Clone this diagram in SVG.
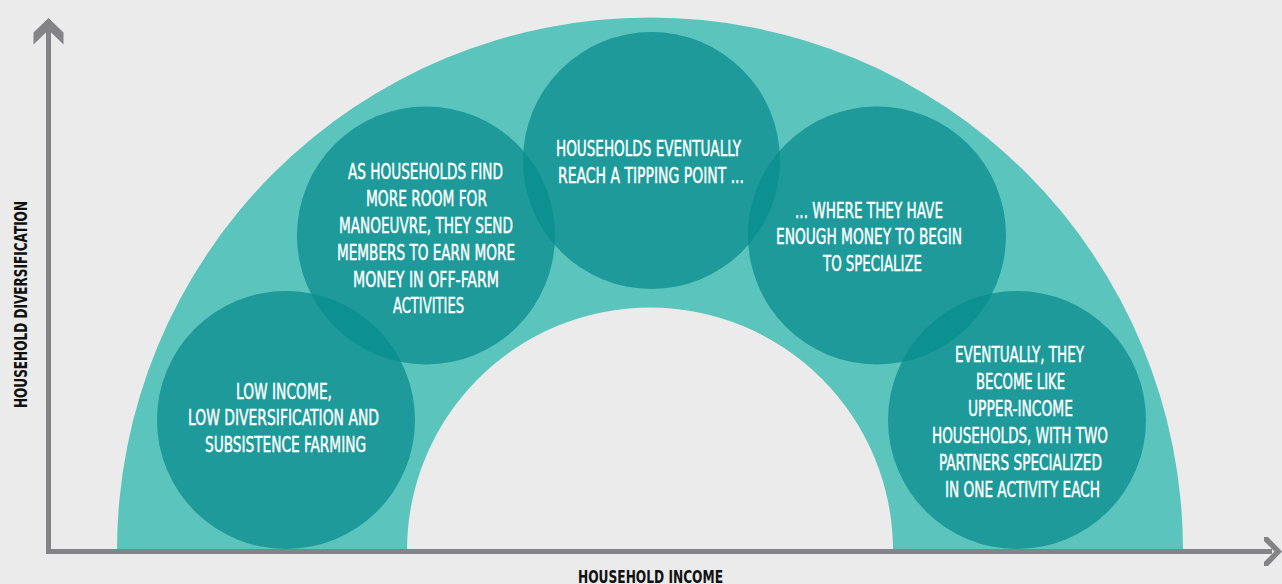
<svg xmlns="http://www.w3.org/2000/svg" width="1282" height="584" viewBox="0 0 1282 584">
<style>
.bubble{fill:#088c8d;fill-opacity:0.75}
.t{font-family:"Liberation Sans Narrow","DejaVu Sans Condensed","Liberation Sans",sans-serif;font-size:21.5px;fill:#ffffff;stroke:#ffffff;stroke-width:0.45;text-anchor:middle}
.ax{font-family:"Liberation Sans Narrow","DejaVu Sans Condensed","Liberation Sans",sans-serif;font-size:17.5px;font-weight:bold;fill:#111111;text-anchor:middle}
.axis{fill:none;stroke:#838388;stroke-width:5}
.head{fill:#838388}
</style>
<rect x="0" y="0" width="1282" height="584" fill="#ebebeb"/>
<path id="arc" d="M117,550.5 A533,533 0 0 1 1183,550.5 L893,550.5 A243,243 0 0 0 407,550.5 Z" fill="#5bc4bd"/>
<g id="node1">
<circle class="bubble" cx="286" cy="420" r="129"/>
<text class="t" x="284" y="399" textLength="96" lengthAdjust="spacingAndGlyphs">LOW INCOME,</text>
<text class="t" x="283.5" y="425" textLength="191" lengthAdjust="spacingAndGlyphs">LOW DIVERSIFICATION AND</text>
<text class="t" x="285.5" y="452" textLength="161" lengthAdjust="spacingAndGlyphs">SUBSISTENCE FARMING</text>
</g>
<g id="node2">
<circle class="bubble" cx="426" cy="235.5" r="129"/>
<text class="t" x="425.5" y="179" textLength="155" lengthAdjust="spacingAndGlyphs">AS HOUSEHOLDS FIND</text>
<text class="t" x="426.5" y="206" textLength="121" lengthAdjust="spacingAndGlyphs">MORE ROOM FOR</text>
<text class="t" x="426" y="233" textLength="174" lengthAdjust="spacingAndGlyphs">MANOEUVRE, THEY SEND</text>
<text class="t" x="426" y="260" textLength="178" lengthAdjust="spacingAndGlyphs">MEMBERS TO EARN MORE</text>
<text class="t" x="426" y="287" textLength="146" lengthAdjust="spacingAndGlyphs">MONEY IN OFF-FARM</text>
<text class="t" x="428.5" y="313" textLength="71" lengthAdjust="spacingAndGlyphs">ACTIVITIES</text>
</g>
<g id="node3">
<circle class="bubble" cx="651.5" cy="160.5" r="128.5"/>
<text class="t" x="648.5" y="156" textLength="185" lengthAdjust="spacingAndGlyphs">HOUSEHOLDS EVENTUALLY</text>
<text class="t" x="651" y="183" textLength="186" lengthAdjust="spacingAndGlyphs">REACH A TIPPING POINT ...</text>
</g>
<g id="node4">
<circle class="bubble" cx="877" cy="235.5" r="129"/>
<text class="t" x="869" y="218" textLength="148" lengthAdjust="spacingAndGlyphs">... WHERE THEY HAVE</text>
<text class="t" x="869" y="244" textLength="186" lengthAdjust="spacingAndGlyphs">ENOUGH MONEY TO BEGIN</text>
<text class="t" x="872.5" y="271" textLength="99" lengthAdjust="spacingAndGlyphs">TO SPECIALIZE</text>
</g>
<g id="node5">
<circle class="bubble" cx="1017" cy="420" r="129"/>
<text class="t" x="1019.5" y="362" textLength="129" lengthAdjust="spacingAndGlyphs">EVENTUALLY, THEY</text>
<text class="t" x="1020.5" y="389" textLength="89" lengthAdjust="spacingAndGlyphs">BECOME LIKE</text>
<text class="t" x="1020.5" y="416" textLength="105" lengthAdjust="spacingAndGlyphs">UPPER-INCOME</text>
<text class="t" x="1020" y="443" textLength="176" lengthAdjust="spacingAndGlyphs">HOUSEHOLDS, WITH TWO</text>
<text class="t" x="1020.5" y="470" textLength="163" lengthAdjust="spacingAndGlyphs">PARTNERS SPECIALIZED</text>
<text class="t" x="1022.5" y="497" textLength="155" lengthAdjust="spacingAndGlyphs">IN ONE ACTIVITY EACH</text>
</g>
<g id="connectors">
<polyline class="axis" points="48.5,28 48.5,551.5 1272,551.5"/>
<polygon class="head" points="48.5,18 63.5,32.5 63.5,44.5 48.5,30 33.5,44.5 33.5,32.5"/>
<polygon class="head" points="1282,551.5 1268,537 1264,537 1264,541 1274.5,551.5 1264,562 1264,566 1268,566"/>
</g>
<g id="labels">
<text class="ax" x="650.5" y="582.5" textLength="145" lengthAdjust="spacingAndGlyphs">HOUSEHOLD INCOME</text>
<text class="ax" transform="translate(27,304.5) rotate(-90)" x="0" y="0" textLength="207" lengthAdjust="spacingAndGlyphs">HOUSEHOLD DIVERSIFICATION</text>
</g>
</svg>
